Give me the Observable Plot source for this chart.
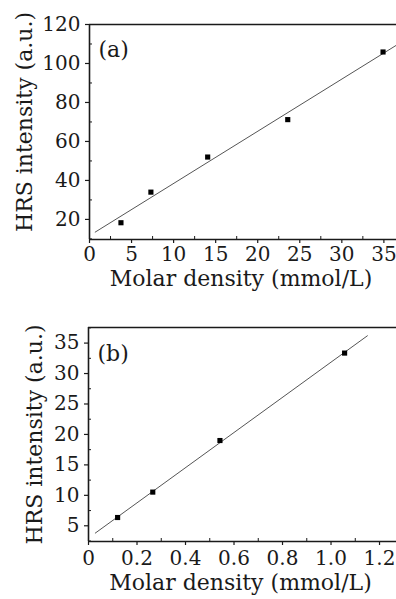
<!DOCTYPE html>
<html>
<head>
<meta charset="utf-8">
<script src="https://cdn.jsdelivr.net/npm/d3@7"></script>
<script src="https://cdn.jsdelivr.net/npm/@observablehq/plot@0.6"></script>
<style>
  html, body { margin: 0; padding: 0; background: #fff; overflow: hidden; }
  svg { display: block; }
</style>
</head>
<body>
<div id="chart"></div>
<script>
// ---- Panel (a) data ----
const xA = [3.74, 7.3, 14.05, 23.57, 34.9];
const yA = [18.3, 34.0, 52.0, 71.2, 105.9];
const fitAx = [0.68, 36.5];
const fitAy = [13.5, 109.4];
const xTicksA = [0, 5, 10, 15, 20, 25, 30, 35];
const xMinorA = [2.5, 7.5, 12.5, 17.5, 22.5, 27.5, 32.5];
const yTicksA = [20, 40, 60, 80, 100, 120];
const yMinorA = [10, 30, 50, 70, 90, 110];

// ---- Panel (b) data ----
const xB = [0.12, 0.265, 0.542, 1.056];
const yB = [6.36, 10.53, 19.0, 33.36];
const fitBx = [0.028, 1.15];
const fitBy = [3.8, 36.2];
const xTicksB = [0, 0.2, 0.4, 0.6, 0.8, 1.0, 1.2];
const xTickLabelsB = ["0", "0.2", "0.4", "0.6", "0.8", "1.0", "1.2"];
const xMinorB = [0.1, 0.3, 0.5, 0.7, 0.9, 1.1];
const yTicksB = [5, 10, 15, 20, 25, 30, 35];
const yMinorB = [2.5, 7.5, 12.5, 17.5, 22.5, 27.5, 32.5, 37.5];

const xLabel = "Molar density (mmol/L)";
const yLabel = "HRS intensity (a.u.)";

const FONT = "DejaVu Serif";
const INK = "#1a1a1a";

function panel(o) {
  const pts = o.xs.map((x, i) => ({x, y: o.ys[i]}));
  const fit = o.fx.map((x, i) => ({x, y: o.fy[i]}));
  return Plot.plot({
    width: 396,
    height: o.height,
    marginTop: o.mt,
    marginBottom: o.mb,
    marginLeft: o.ml,
    marginRight: 0,
    style: {fontFamily: FONT, color: INK, background: "white"},
    x: {domain: o.xDomain},
    y: {domain: o.yDomain},
    marks: [
      // minor ticks (inward)
      Plot.axisX(o.xMinor, {tickSize: -3, tickFormat: () => "", stroke: INK, strokeWidth: 1, label: null}),
      Plot.axisY(o.yMinor, {tickSize: -3, tickFormat: () => "", stroke: INK, strokeWidth: 1, label: null}),
      // major ticks (outward) with labels
      Plot.axisX(o.xTicks, {tickSize: 4, tickPadding: o.xPad, tickFormat: o.xFmt, fontSize: 20, stroke: INK, strokeWidth: 1.2, label: null}),
      Plot.axisY(o.yTicks, {tickSize: 4, tickPadding: 5, tickFormat: d => String(d), fontSize: 20, stroke: INK, strokeWidth: 1.2, label: null}),
      // frame lines
      Plot.ruleY([o.yDomain[0]], {stroke: INK, strokeWidth: 1.6}),
      Plot.ruleY([o.yDomain[1]], {stroke: INK, strokeWidth: 1.3}),
      Plot.ruleX([o.xDomain[0]], {stroke: INK, strokeWidth: 1.6}),
      // fit line
      Plot.line(fit, {x: "x", y: "y", stroke: "#555", strokeWidth: 1}),
      // data points
      Plot.dot(pts, {x: "x", y: "y", symbol: "square", r: 2.9, fill: "#000", stroke: "none"}),
      // panel letter
      Plot.text([o.tag], {frameAnchor: "top-left", dx: 9, dy: o.tagDy, text: d => d, textAnchor: "start", lineAnchor: "middle", fontSize: 22, fill: INK}),
      // axis titles
      Plot.text([xLabel], {frameAnchor: "bottom", dy: o.xlDy, dx: o.xlDx, text: d => d, textAnchor: "middle", lineAnchor: "middle", fontSize: 22, fill: INK}),
      Plot.text([yLabel], {frameAnchor: "left", dx: o.ylDx, dy: o.ylDy, text: d => d, rotate: -90, textAnchor: "middle", lineAnchor: "middle", fontSize: 22, fill: INK})
    ]
  });
}

const chartA = panel({
  xs: xA, ys: yA, fx: fitAx, fy: fitAy,
  height: 300, mt: 24, mb: 61, ml: 89,
  xDomain: [0, 36.5], yDomain: [9.7, 120],
  xTicks: xTicksA, xMinor: xMinorA, yTicks: yTicksA, yMinor: yMinorA,
  xFmt: d => String(d), xPad: 3,
  tag: "(a)", tagDy: 25,
  xlDy: 39, xlDx: -2, ylDx: -65, ylDy: -10
});

const chartB = panel({
  xs: xB, ys: yB, fx: fitBx, fy: fitBy,
  height: 299, mt: 27, mb: 58, ml: 88,
  xDomain: [0, 1.27], yDomain: [2.42, 37.56],
  xTicks: xTicksB, xMinor: xMinorB, yTicks: yTicksB, yMinor: yMinorB,
  xFmt: (d, i) => xTickLabelsB[i], xPad: 5,
  tag: "(b)", tagDy: 26,
  xlDy: 41, xlDx: -2, ylDx: -54, ylDy: 0
});

document.getElementById("chart").append(chartA, chartB);
</script>
</body>
</html>
